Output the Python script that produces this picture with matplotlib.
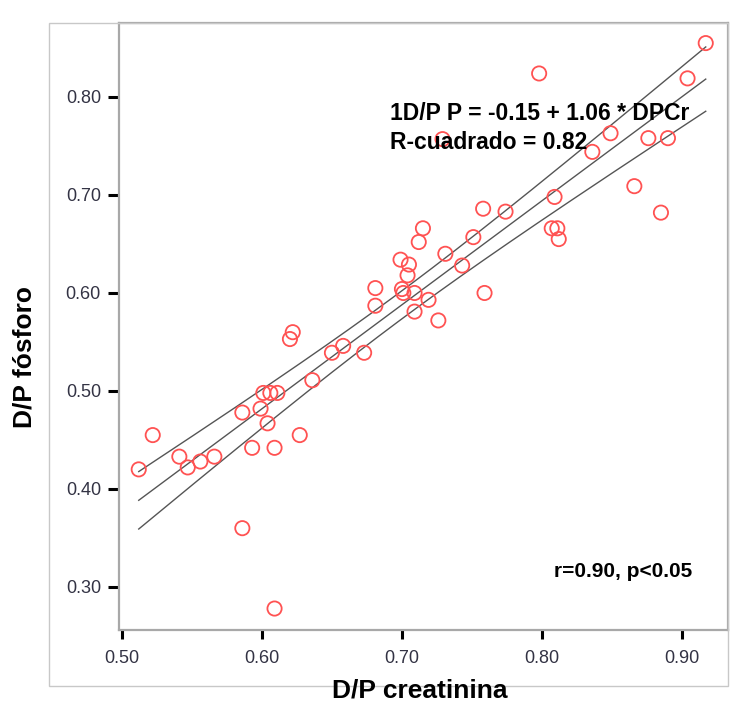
import matplotlib
matplotlib.use("Agg")
import matplotlib.pyplot as plt
import numpy as np
from matplotlib.patches import Rectangle

plt.rcParams["font.family"] = ["Liberation Sans", "DejaVu Sans"]

# D/P creatinina vs D/P fosforo
dp_creatinina = [
    0.917, 0.798, 0.904, 0.849, 0.876, 0.890, 0.836, 0.729, 0.866, 0.809,
    0.885, 0.758, 0.774, 0.807, 0.811, 0.812, 0.715, 0.751, 0.712, 0.731,
    0.699, 0.705, 0.743, 0.704, 0.681, 0.700, 0.701, 0.709, 0.759, 0.719,
    0.681, 0.709, 0.726, 0.622, 0.620, 0.658, 0.650, 0.673, 0.636, 0.601,
    0.606, 0.611, 0.586, 0.599, 0.604, 0.627, 0.593, 0.609, 0.522, 0.512,
    0.541, 0.547, 0.556, 0.566, 0.586, 0.609,
]
dp_fosforo = [
    0.855, 0.824, 0.819, 0.763, 0.758, 0.758, 0.744, 0.757, 0.709, 0.698,
    0.682, 0.686, 0.683, 0.666, 0.666, 0.655, 0.666, 0.657, 0.652, 0.640,
    0.634, 0.629, 0.628, 0.618, 0.605, 0.604, 0.600, 0.600, 0.600, 0.593,
    0.587, 0.581, 0.572, 0.560, 0.553, 0.546, 0.539, 0.539, 0.511, 0.498,
    0.498, 0.498, 0.478, 0.482, 0.467, 0.455, 0.442, 0.442, 0.455, 0.420,
    0.433, 0.422, 0.428, 0.433, 0.360, 0.278,
]

x_ticks = [0.50, 0.60, 0.70, 0.80, 0.90]
y_ticks = [0.30, 0.40, 0.50, 0.60, 0.70, 0.80]

x = np.array(dp_creatinina)
y = np.array(dp_fosforo)

# linear fit with 95% confidence band of the mean
n = len(x)
slope, intercept = np.polyfit(x, y, 1)
xx = np.linspace(x.min(), x.max(), 200)
yy = intercept + slope * xx
resid = y - (intercept + slope * x)
s = np.sqrt(np.sum(resid ** 2) / (n - 2))
sxx = np.sum((x - x.mean()) ** 2)
half = 2.005 * s * np.sqrt(1 / n + (xx - x.mean()) ** 2 / sxx)

fig = plt.figure(figsize=(7.32, 7.06), dpi=100)
fig.patches.append(Rectangle((49 / 732, 1 - 686 / 706), (728 - 49) / 732, (686 - 23) / 706,
                             transform=fig.transFigure, fill=False,
                             edgecolor="#c8c8c8", linewidth=1.0, zorder=0))

ax = fig.add_axes([119 / 732, 1 - 630 / 706, (728 - 119) / 732, (630 - 23) / 706])
ax.set_xlim(0.4979, 0.9329)
ax.set_ylim(0.2561, 0.8755)

ax.plot(xx, yy, color="#555555", linewidth=1.0)
ax.plot(xx, yy + half, color="#555555", linewidth=1.0)
ax.plot(xx, yy - half, color="#555555", linewidth=1.0)
ax.scatter(x, y, s=105, facecolors="none", edgecolors="#ff5252", linewidths=1.3, zorder=3)

for side in ["left", "bottom", "top", "right"]:
    ax.spines[side].set_color("#a8a8a8")
    ax.spines[side].set_linewidth(1.6)

ax.set_xticks(x_ticks)
ax.set_xticklabels([f"{v:.2f}" for v in x_ticks])
ax.set_yticks(y_ticks)
ax.set_yticklabels([f"{v:.2f}" for v in y_ticks])
ax.tick_params(axis="x", direction="out", length=6.5, width=2.2, color="black",
               labelsize=13, labelcolor="#333344", pad=8)
ax.tick_params(axis="y", direction="out", length=8, width=2.2, color="black",
               labelsize=13, labelcolor="#333344", pad=5)

ax.text(0.6914, 0.7827, "1D/P P = -0.15 + 1.06 * DPCr", fontsize=16.5,
        fontweight="bold", va="center", ha="left")
ax.text(0.6914, 0.7531, "R-cuadrado = 0.82", fontsize=16.5,
        fontweight="bold", va="center", ha="left")
ax.text(0.9071, 0.3153, "r=0.90, p<0.05", fontsize=15,
        fontweight="bold", va="center", ha="right")

fig.text(420 / 732, 1 - 691 / 706, "D/P creatinina", fontsize=19, fontweight="bold",
         ha="center", va="center")
fig.text(25 / 732, 1 - 357 / 706, "D/P fósforo", fontsize=19, fontweight="bold",
         ha="center", va="center", rotation=90)

fig.savefig("out.png", dpi=100)
